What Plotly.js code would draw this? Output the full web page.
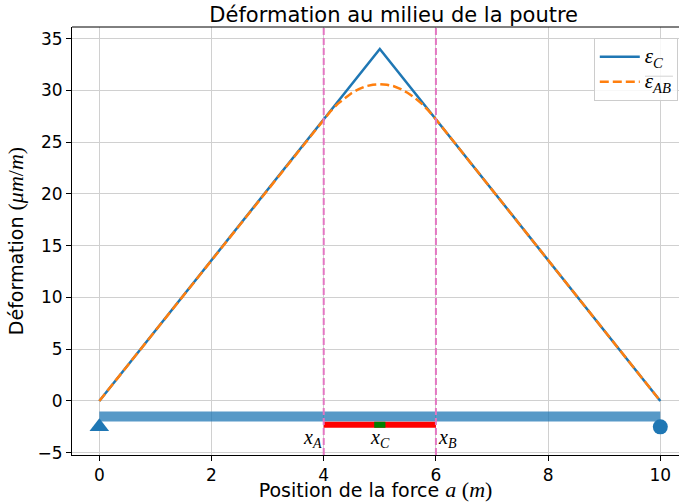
<!DOCTYPE html>
<html><head><meta charset="utf-8">
<script src="https://cdn.plot.ly/plotly-3.0.1.min.js"></script>
<style>html,body{margin:0;padding:0;background:#fff}</style>
</head><body><div id="chart" style="width:679px;height:502px"></div>
<script>
// Data
const posC = [0, 5, 10];
const epsC = [0, 34, 0];
const posAB = [0, 4, 4.125, 4.25, 4.375, 4.5, 4.625, 4.75, 4.875, 5, 5.125, 5.25, 5.375, 5.5, 5.625, 5.75, 5.875, 6, 10];
const epsAB = [0, 27.2, 28.0, 28.7, 29.27, 29.75, 30.12, 30.4, 30.55, 30.6, 30.55, 30.4, 30.12, 29.75, 29.27, 28.7, 28.0, 27.2, 0];
const beamX = [0, 10];
const beamY = [-1.5, -1.5];
const zoneX = [4, 6];
const zoneY = [-2.3, -2.3];
const gaugeX = [4.9, 5.1];
const gaugeY = [-2.3, -2.3];
const pinX = [0], pinY = [-2.5];
const rollerX = [10], rollerY = [-2.5];
const xAB = [4, 6];
const labelX = [4, 5, 6];
const labelY = [-3.6, -3.6, -3.6];
const labelText = ['A', 'C', 'B'];
const labelAnchor = ['right', 'center', 'left'];
const xTicks = [0, 2, 4, 6, 8, 10];
const yTicks = [-5, 0, 5, 10, 15, 20, 25, 30, 35];

const M = "font-family:'Liberation Serif',serif";
const traces = [
  {x: posC, y: epsC, mode: 'lines', line: {color: '#1f77b4', width: 2.5},
   name: `<span style="${M};font-size:21px"><i>ε</i><sub><i>C</i></sub></span>`},
  {x: posAB, y: epsAB, mode: 'lines', line: {color: '#ff7f0e', width: 2.5, dash: '9px,4px'},
   name: `<span style="${M};font-size:21px"><i>ε</i><sub><i>AB</i></sub></span>`},
  {x: beamX, y: beamY, mode: 'lines', line: {color: 'rgba(31,119,180,0.75)', width: 10}, showlegend: false},
  {x: zoneX, y: zoneY, mode: 'lines', line: {color: '#ff0000', width: 6}, showlegend: false},
  {x: gaugeX, y: gaugeY, mode: 'lines', line: {color: '#008000', width: 6}, showlegend: false},
  {x: pinX, y: pinY, mode: 'markers', marker: {symbol: 'triangle-up', size: 17, color: '#1f77b4'}, showlegend: false},
  {x: rollerX, y: rollerY, mode: 'markers', marker: {symbol: 'circle', size: 15, color: '#1f77b4'}, showlegend: false}
];

const shapes = xAB.map(v => ({type: 'line', xref: 'x', yref: 'paper', x0: v, x1: v, y0: 0, y1: 1,
  line: {color: '#e377c2', width: 2, dash: '7px,3px'}, layer: 'above'}));
// top spine
shapes.push({type: 'line', xref: 'paper', yref: 'paper', x0: 0, x1: 1, y0: 1, y1: 1, line: {color: '#000', width: 1}});
// overline of the mean-strain legend symbol
shapes.push({type: 'line', xref: 'paper', yref: 'paper', x0: 0.944, x1: 0.99, y0: 0.885, y1: 0.885, line: {color: '#000', width: 1.2}});

const annotations = labelX.map((v, i) => ({x: v, y: labelY[i], xref: 'x', yref: 'y',
  text: `<span style="${M}"><i>x</i><sub><i>${labelText[i]}</i></sub></span>`,
  showarrow: false, xanchor: labelAnchor[i], yanchor: 'middle', font: {size: 20, color: '#000'}}));

const axisCommon = {showline: true, linecolor: '#000', linewidth: 1, ticks: 'outside', ticklen: 5,
  tickwidth: 1, tickcolor: '#000', showgrid: true, gridcolor: '#d0d0d0', gridwidth: 1, zeroline: false,
  tickfont: {family: 'DejaVu Sans', size: 17, color: '#000'}};

const layout = {
  width: 679, height: 502,
  margin: {l: 72, r: 0, t: 27, b: 47},
  paper_bgcolor: '#fff', plot_bgcolor: '#fff',
  font: {family: 'DejaVu Sans', color: '#000'},
  title: {text: 'Déformation au milieu de la poutre', font: {family: 'DejaVu Sans', size: 21, color: '#000'},
    x: 0.53, xref: 'paper', xanchor: 'center', y: 0.97, yref: 'container', yanchor: 'middle'},
  xaxis: Object.assign({}, axisCommon, {range: [-0.487, 10.333], tickvals: xTicks, mirror: false,
    title: {text: `Position de la force <span style="${M};font-size:22px"><i>a</i> (<i>m</i>)</span>`, font: {family: 'DejaVu Sans', size: 19}, standoff: 4}}),
  yaxis: Object.assign({}, axisCommon, {range: [-5.22, 36.12], tickvals: yTicks,
    title: {text: `Déformation <span style="${M};font-size:22px">(<i>μm</i>/<i>m</i>)</span>`, font: {family: 'DejaVu Sans', size: 19}, standoff: 8}}),
  showlegend: true,
  legend: {x: 0.998, y: 0.974, xanchor: 'right', yanchor: 'top', bgcolor: 'rgba(255,255,255,0.85)',
    bordercolor: '#cccccc', borderwidth: 1, font: {size: 17, color: '#000'}, itemwidth: 40, tracegroupgap: 0},
  shapes: shapes,
  annotations: annotations
};
Plotly.newPlot('chart', traces, layout, {displayModeBar: false, staticPlot: true});
</script></body></html>
